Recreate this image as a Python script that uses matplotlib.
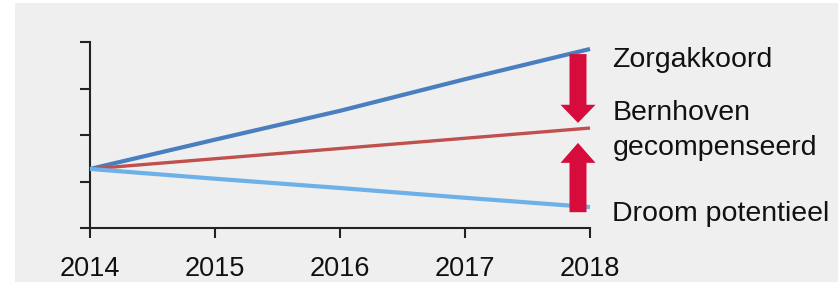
import matplotlib
matplotlib.use("Agg")
import matplotlib.pyplot as plt
from matplotlib.patches import Rectangle, FancyArrow

years = [2014, 2015, 2016, 2017, 2018]
zorgakkoord = [1.27, 1.90, 2.52, 3.20, 3.85]
bernhoven = [1.27, 1.49, 1.71, 1.93, 2.15]
droom = [1.27, 1.06, 0.86, 0.65, 0.45]
yticks = [0, 1, 2, 3, 4]
labels = ["Zorgakkoord", "Bernhoven", "gecompenseerd", "Droom potentieel"]

c_zorg = "#4a7ebf"
c_bern = "#c0504d"
c_droom = "#6eb0e8"
c_arrow = "#d50c3c"
bg = "#efefef"

plt.rcParams['font.family'] = ['Liberation Sans', 'DejaVu Sans']

W, H = 838, 282
fig = plt.figure(figsize=(W / 100, H / 100), dpi=100, facecolor="white")
fig.patches.append(Rectangle((15 / W, 0), 1 - 15 / W, 1 - 3 / H,
                             transform=fig.transFigure, facecolor=bg,
                             edgecolor="none", zorder=-10))

ax = fig.add_axes([90 / W, (H - 228) / H, 500 / W, 186 / H])
ax.set_facecolor("none")
ax.plot(years, zorgakkoord, color=c_zorg, lw=3.0, clip_on=False, solid_capstyle="butt", zorder=3)
ax.plot(years, bernhoven, color=c_bern, lw=2.4, clip_on=False, solid_capstyle="butt", zorder=3)
ax.plot(years, droom, color=c_droom, lw=3.0, clip_on=False, solid_capstyle="butt", zorder=3)

ax.set_xlim(years[0], years[-1])
ax.set_ylim(yticks[0], yticks[-1])
ax.set_xticks(years)
ax.set_xticklabels([str(y) for y in years])
ax.set_yticks(yticks)
ax.set_yticklabels([])
for s in ["top", "right"]:
    ax.spines[s].set_visible(False)
for s in ["left", "bottom"]:
    ax.spines[s].set_linewidth(1.5)
    ax.spines[s].set_color("#222222")
ax.tick_params(axis="both", direction="out", length=7.5, width=1.5, color="#222222")
ax.tick_params(axis="x", labelsize=19.5, pad=13, labelcolor="#111111")

# arrows
ax_x = years[-1] - 0.096
shaft_w = 0.136
head_w = 0.28
head_l = 0.39
top = zorgakkoord[-1] - 0.11
tip = bernhoven[-1] + 0.11
ax.add_patch(FancyArrow(ax_x, top, 0, tip - top, width=shaft_w, head_width=head_w,
                        head_length=head_l, length_includes_head=True,
                        color=c_arrow, lw=0, clip_on=False, zorder=4))
bot = droom[-1] - 0.11
tip2 = bernhoven[-1] - 0.32
ax.add_patch(FancyArrow(ax_x, bot, 0, tip2 - bot, width=shaft_w, head_width=head_w,
                        head_length=head_l * 1.1, length_includes_head=True,
                        color=c_arrow, lw=0, clip_on=False, zorder=4))

tx = years[-1] + 0.18
label_y = [3.62, 2.47, 1.72, 0.31]
for lab, yy in zip(labels, label_y):
    ax.text(tx, yy, lab, fontsize=20.5, color="#111111", ha="left", va="center", clip_on=False)

fig.savefig("out.png", dpi=100, facecolor=fig.get_facecolor())
